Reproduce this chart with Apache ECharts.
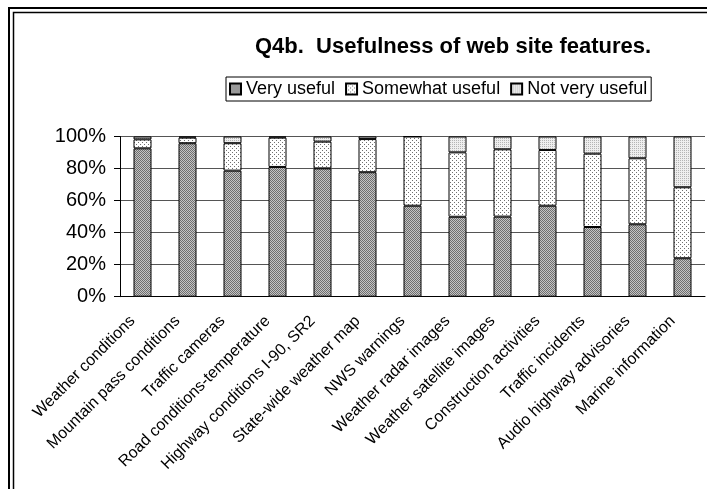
<!DOCTYPE html>
<html>
<head>
<meta charset="utf-8">
<script src="https://cdn.jsdelivr.net/npm/echarts@6/dist/echarts.min.js"></script>
<style>
  html, body { margin: 0; padding: 0; background: #fff; }
  #chart { width: 707px; height: 489px; }
</style>
</head>
<body>
<div id="chart"></div>
<script>
const categories = [
  'Weather conditions', 'Mountain pass conditions', 'Traffic cameras',
  'Road conditions-temperature', 'Highway conditions I-90, SR2',
  'State-wide weather map', 'NWS warnings', 'Weather radar images',
  'Weather satellite images', 'Construction activities', 'Traffic incidents',
  'Audio highway advisories', 'Marine information'
]
const veryUseful     = [92.6, 95.8, 78.7, 81.0, 80.1, 77.7, 56.8, 49.9, 50.0, 56.8, 43.5, 45.2, 24.0]
const somewhatUseful = [5.6, 3.5, 17.1, 18.3, 16.7, 20.7, 43.2, 40.2, 42.0, 34.8, 45.8, 41.2, 44.3]
const notVeryUseful  = [1.8, 0.7, 4.2, 0.7, 3.2, 1.6, 0.0, 9.9, 8.0, 8.4, 10.7, 13.6, 31.7]
const yTicks = [0, 20, 40, 60, 80, 100]

// small bitmap fills to mimic the excel hatch patterns
function pattern(size, bg, fg, dots) {
  const c = document.createElement('canvas')
  c.width = size
  c.height = size
  const ctx = c.getContext('2d')
  ctx.fillStyle = bg
  ctx.fillRect(0, 0, size, size)
  ctx.fillStyle = fg
  dots.forEach(d => ctx.fillRect(d[0], d[1], 1, 1))
  return { image: c, repeat: 'repeat' }
}

const fillVery = pattern(2, '#c4c4c4', '#6e6e6e', [[0, 0], [1, 1]])
const fillSome = pattern(4, '#ffffff', '#707070', [[0, 0], [2, 2]])
const fillNot = pattern(2, '#eeeeee', '#b4b4b4', [[0, 0]])

const chart = echarts.init(document.getElementById('chart'), null, { renderer: 'canvas' })

function barSeries(name, data, fill) {
  return {
    name: name,
    type: 'bar',
    stack: 'total',
    data: data,
    barWidth: '40%',
    itemStyle: { color: fill, borderColor: '#000', borderWidth: 1 },
    emphasis: { disabled: true }
  }
}

const font = 'Arial, Liberation Sans'

chart.setOption({
  animation: false,
  title: {
    text: 'Q4b.  Usefulness of web site features.',
    left: 250,
    top: 31,
    textStyle: { fontFamily: font, fontSize: 22, fontWeight: 'bold', color: '#000' }
  },
  legend: {
    data: ['Very useful', 'Somewhat useful', 'Not very useful'],
    left: 226,
    top: 77,
    icon: 'rect',
    itemWidth: 11,
    itemHeight: 11,
    itemGap: 10,
    padding: [3, 4, 3, 3],
    borderColor: '#000',
    borderWidth: 1,
    textStyle: { fontFamily: font, fontSize: 18, color: '#000', padding: [0, 0, 0, 0] }
  },
  grid: { left: 120, right: 2, top: 136.5, bottom: 192.3, containLabel: false },
  xAxis: {
    type: 'category',
    data: categories,
    axisLine: { lineStyle: { color: '#000', width: 1 } },
    axisTick: { length: 5, lineStyle: { color: '#000' } },
    axisLabel: {
      interval: 0,
      rotate: 45,
      margin: 12,
      padding: [0, 14, 0, 0],
      fontFamily: font,
      fontSize: 16,
      color: '#000'
    }
  },
  yAxis: {
    type: 'value',
    min: yTicks[0],
    max: yTicks[yTicks.length - 1],
    interval: 20,
    axisLine: { show: true, lineStyle: { color: '#000', width: 1 } },
    axisTick: { show: true, length: 6, lineStyle: { color: '#000' } },
    splitLine: { lineStyle: { color: '#555', width: 1 } },
    axisLabel: {
      formatter: '{value}%',
      margin: 14,
      fontFamily: font,
      fontSize: 20,
      color: '#000'
    }
  },
  graphic: [
    { type: 'rect', shape: { x: 9, y: 8, width: 720, height: 520 }, style: { fill: 'none', stroke: '#000', lineWidth: 2 }, silent: true },
    { type: 'rect', shape: { x: 13.5, y: 12.5, width: 720, height: 520 }, style: { fill: 'none', stroke: '#000', lineWidth: 1.5 }, silent: true }
  ],
  series: [
    barSeries('Very useful', veryUseful, fillVery),
    barSeries('Somewhat useful', somewhatUseful, fillSome),
    barSeries('Not very useful', notVeryUseful, fillNot)
  ]
})
</script>
</body>
</html>
